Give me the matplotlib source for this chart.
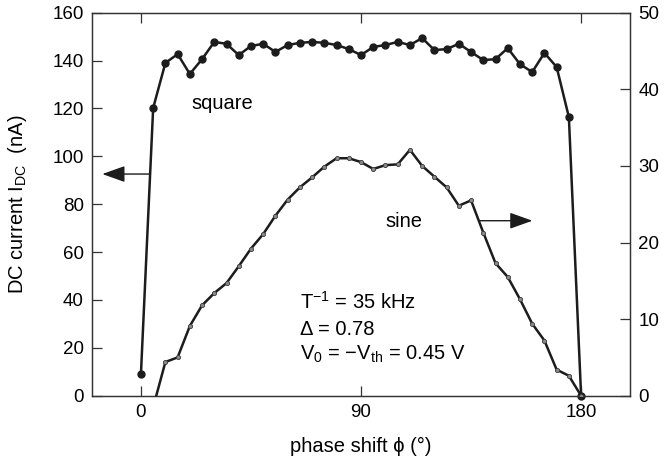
import matplotlib
matplotlib.use("Agg")
import matplotlib.pyplot as plt

plt.rcParams["font.family"] = ["Liberation Sans", "DejaVu Sans"]
plt.rcParams["mathtext.fontset"] = "custom"
plt.rcParams["mathtext.rm"] = "Liberation Sans"
plt.rcParams["mathtext.it"] = "Liberation Sans:italic"
plt.rcParams["mathtext.bf"] = "Liberation Sans:bold"

# ── data ─────────────────────────────────────────────────────────────────────
phase_square = [0, 5, 10, 15, 20, 25, 30, 35, 40, 45, 50, 55, 60, 65, 70, 75,
                80, 85, 90, 95, 100, 105, 110, 115, 120, 125, 130, 135, 140,
                145, 150, 155, 160, 165, 170, 175, 180]
current_square = [9.1, 120.2, 139.0, 142.7, 134.4, 140.6, 147.8, 147.0, 142.3,
                  146.1, 147.0, 143.6, 146.5, 147.4, 147.8, 147.4, 146.5, 144.8,
                  142.3, 145.7, 146.5, 147.8, 146.5, 149.4, 144.4, 144.8, 147.0,
                  143.6, 140.2, 140.6, 145.2, 138.5, 135.2, 143.2, 137.3, 116.4,
                  0.0]

phase_sine = [5, 10, 15, 20, 25, 30, 35, 40, 45, 50, 55, 60, 65, 70, 75, 80,
              85, 90, 95, 100, 105, 110, 115, 120, 125, 130, 135, 140, 145, 150,
              155, 160, 165, 170, 175, 180]
current_sine = [-1.5, 4.4, 5.0, 9.1, 11.8, 13.4, 14.7, 16.9, 19.2, 21.1, 23.5,
                25.6, 27.2, 28.5, 29.9, 31.0, 31.0, 30.5, 29.6, 30.1, 30.2, 32.1,
                30.0, 28.6, 27.2, 24.8, 25.5, 21.3, 17.3, 15.5, 12.6, 9.4, 7.2,
                3.4, 2.6, 0.0]

x_ticks = [0, 90, 180]
left_ticks = [0, 20, 40, 60, 80, 100, 120, 140, 160]
right_ticks = [0, 10, 20, 30, 40, 50]

LINE = "#1c1c1c"
SPINE = "#333333"
TICK_FS = 13.5
TEXT_FS = 14.5

fig = plt.figure(figsize=(6.64, 4.62), dpi=100)
ax = fig.add_axes([0.1386, 0.1435, 0.8102, 0.829])
ax2 = ax.twinx()

ax.plot(phase_square, current_square, color=LINE, lw=1.8, marker="o",
        ms=5, mfc=LINE, mec=LINE, clip_on=False, zorder=3)
ax2.plot(phase_sine, current_sine, color=LINE, lw=1.8, marker="o",
         ms=3.0, mfc="#8a8a8a", mec="#3a3a3a", mew=0.6, zorder=3)

ax.set_xlim(-20, 200)
ax.set_ylim(0, 160)
ax2.set_ylim(0, 50)

ax.set_xticks(x_ticks)
ax.set_yticks(left_ticks)
ax2.set_yticks(right_ticks)

ax.tick_params(axis="x", direction="in", length=7, width=0.9, color=SPINE,
               labelsize=TICK_FS, pad=6, top=True)
ax.tick_params(axis="y", direction="in", length=7, width=0.9, color=SPINE,
               labelsize=TICK_FS, pad=6)
ax2.tick_params(axis="y", direction="in", length=7, width=0.9, color=SPINE,
                labelsize=TICK_FS, pad=6)

for a in (ax, ax2):
    for s in a.spines.values():
        s.set_color(SPINE)
        s.set_linewidth(0.9)

ax.set_xlabel("phase shift ϕ (°)", fontsize=TEXT_FS)
ax.xaxis.set_label_coords(0.5, -0.108)
ax.set_ylabel(r"DC current I$_{\rm DC}$  (nA)", fontsize=TEXT_FS)
ax.yaxis.set_label_coords(-0.118, 0.5)

# curve labels and arrows pointing to their axes
ax.text(20.6, 119.6, "square", fontsize=TEXT_FS, va="baseline", ha="left")
ax.text(100, 70.3, "sine", fontsize=TEXT_FS, va="baseline", ha="left")

arrow = dict(arrowstyle="-|>,head_length=1.4,head_width=0.5", color=LINE,
             lw=1.0, shrinkA=0, shrinkB=0)
ax.annotate("", xy=(-15.8, 92.6), xytext=(3.4, 92.6), arrowprops=arrow,
            annotation_clip=False)
ax.annotate("", xy=(160.1, 73.1), xytext=(138.5, 73.1), arrowprops=arrow)

# parameters
ax.text(65.2, 36.1, r"T$^{-1}$ = 35 kHz", fontsize=TEXT_FS, va="baseline")
ax.text(65.2, 25.4, "Δ = 0.78", fontsize=TEXT_FS, va="baseline")
ax.text(65.2, 14.9, r"V$_0$ = −V$_{\rm th}$ = 0.45 V", fontsize=TEXT_FS,
        va="baseline")

fig.savefig("out.png", dpi=100)
